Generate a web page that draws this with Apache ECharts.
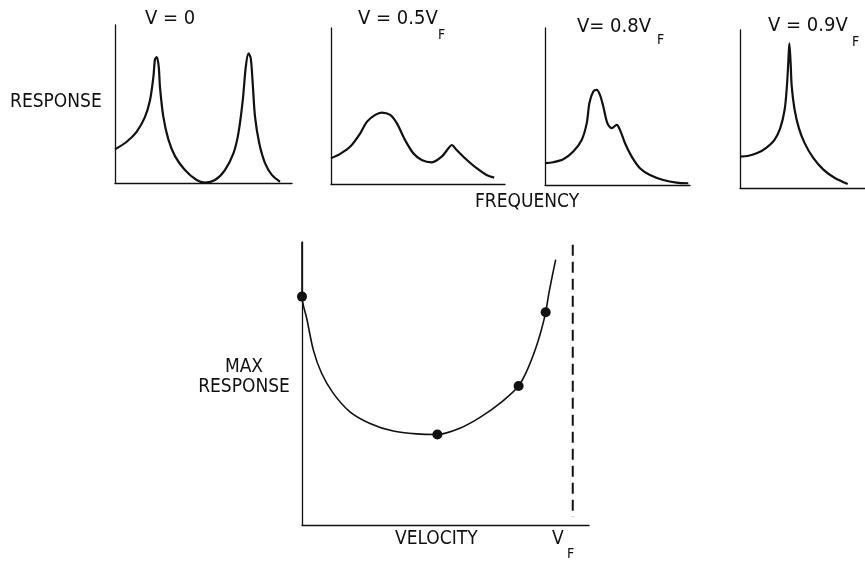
<!DOCTYPE html>
<html>
<head>
<meta charset="utf-8">
<style>
  html, body { margin: 0; padding: 0; background: #fff; }
  #chart { width: 865px; height: 561px; }
</style>
<script src="https://cdn.jsdelivr.net/npm/echarts@6/dist/echarts.min.js"></script>
</head>
<body>
<div id="chart"></div>
<script>
// Frequency response at four flow velocities (relative units)
const freqV0 = [0, 0.66, 1.22, 1.69, 1.98, 2.17, 2.26, 2.36, 2.47, 2.54, 2.73, 3.01, 3.39, 3.95, 4.61, 5.08, 5.65, 6.21, 6.69, 6.97, 7.22, 7.39, 7.54, 7.67, 7.78, 7.91, 8.15, 8.47, 8.85, 9.32];
const respV0 = [2.13, 2.61, 3.24, 4.17, 5.25, 6.73, 7.83, 7.97, 7.37, 6.09, 4.20, 2.78, 1.70, 0.82, 0.19, 0.03, 0.19, 0.82, 1.87, 3.14, 5.25, 7.36, 8.20, 7.89, 6.31, 4.20, 2.51, 1.27, 0.53, 0.08];

const freqV05 = [0, 0.53, 1.11, 1.68, 2.07, 2.54, 2.92, 3.40, 3.78, 4.25, 4.73, 5.21, 5.79, 6.36, 6.75, 6.94, 7.22, 7.70, 8.37, 8.94, 9.38];
const respV05 = [1.65, 1.93, 2.40, 3.25, 4.00, 4.43, 4.58, 4.43, 3.90, 2.83, 1.97, 1.54, 1.39, 1.75, 2.29, 2.50, 2.18, 1.65, 1.01, 0.58, 0.41];

const freqV08 = [0, 0.57, 1.26, 1.95, 2.53, 2.88, 3.06, 3.33, 3.57, 3.79, 4.02, 4.30, 4.60, 4.95, 5.17, 5.52, 5.98, 6.55, 7.24, 8.16, 9.08, 9.88];
const respV08 = [1.39, 1.45, 1.64, 2.13, 2.87, 3.94, 5.21, 5.95, 6.06, 5.74, 5.00, 3.94, 3.62, 3.83, 3.51, 2.66, 1.81, 1.07, 0.64, 0.32, 0.15, 0.11];

const freqV09 = [0, 0.69, 1.38, 2.07, 2.76, 3.22, 3.57, 3.75, 3.86, 3.95, 4.05, 4.14, 4.37, 4.71, 5.17, 5.86, 6.67, 7.59, 8.62];
const respV09 = [1.99, 2.04, 2.21, 2.53, 3.05, 3.79, 4.95, 6.42, 7.90, 9.16, 7.90, 6.42, 4.95, 3.79, 2.84, 1.90, 1.16, 0.63, 0.25];

const panelTitles = ['V = 0', 'V = 0.5V', 'V= 0.8V', 'V = 0.9V'];
const panelSubs = ['', 'F', 'F', 'F'];

// Peak response against velocity (fraction of flutter velocity V_F)
const velocity = [0, 0, 0, 0.018, 0.042, 0.072, 0.115, 0.177, 0.251, 0.337, 0.423, 0.5, 0.583, 0.662, 0.739, 0.8, 0.832, 0.861, 0.884, 0.9, 0.912, 0.925, 0.937];
const maxResp = [10, 9.1, 8.07, 7.28, 6.18, 5.37, 4.66, 4.00, 3.59, 3.32, 3.22, 3.20, 3.42, 3.83, 4.36, 4.91, 5.48, 6.18, 6.89, 7.52, 8.19, 8.83, 9.38];
const testVelocity = [0, 0.5, 0.8, 0.9];
const testMaxResp = [8.07, 3.20, 4.91, 7.52];
const flutterVelocity = 1.0;
const flutterLineSpan = [9.9, 0.28];

const zip = (xs, ys) => xs.map((x, i) => [x, ys[i]]);

const INK = '#111';
const FONT = '"DejaVu Sans Condensed", "DejaVu Sans", sans-serif';

const grids = [
  { left: 115, top: 25, width: 177, height: 158 },
  { left: 331, top: 28, width: 174, height: 156 },
  { left: 545, top: 28, width: 145, height: 157 },
  { left: 740, top: 30, width: 145, height: 158 },
  { left: 302, top: 242, width: 287, height: 283 }
];

const bareAxis = (idx, min, max) => ({
  gridIndex: idx, type: 'value', min: min, max: max,
  axisLine: { show: true, onZero: false, lineStyle: { color: INK, width: 1.3 } },
  axisTick: { show: false }, axisLabel: { show: false }, splitLine: { show: false }
});

const xAxes = [0, 1, 2, 3].map(i => bareAxis(i, 0, 10));
xAxes.push(bareAxis(4, 0, 1.06));
const yAxes = [0, 1, 2, 3, 4].map(i => bareAxis(i, 0, 10));

const curves = [zip(freqV0, respV0), zip(freqV05, respV05), zip(freqV08, respV08), zip(freqV09, respV09)];

const series = curves.map((d, i) => ({
  type: 'line', xAxisIndex: i, yAxisIndex: i, data: d,
  smooth: 0.3, showSymbol: false, clip: false,
  lineStyle: { color: INK, width: 2.2 }
}));

series.push({
  type: 'line', xAxisIndex: 4, yAxisIndex: 4, data: zip(velocity, maxResp),
  smooth: 0.3, showSymbol: false, clip: false,
  lineStyle: { color: INK, width: 1.6 }
});
series.push({
  type: 'scatter', xAxisIndex: 4, yAxisIndex: 4, data: zip(testVelocity, testMaxResp),
  symbolSize: 10, itemStyle: { color: INK, opacity: 1 }
});
series.push({
  type: 'line', xAxisIndex: 4, yAxisIndex: 4,
  data: flutterLineSpan.map(y => [flutterVelocity, y]),
  showSymbol: false,
  lineStyle: { color: INK, width: 2, type: [11, 6] }
});

const txt = (text, x, y, size, align) => ({
  type: 'text', x: x, y: y,
  style: { text: text, fill: INK, font: size + 'px ' + FONT, textAlign: align || 'left', textVerticalAlign: 'middle' }
});

const titlePos = [[145, 18.5], [358, 18.5], [577, 26.5], [768, 25.5]];
const subPos = [null, [438, 35], [657, 40], [852, 42.5]];

const graphics = [];
panelTitles.forEach((t, i) => {
  graphics.push(txt(t, titlePos[i][0], titlePos[i][1], 20));
  if (panelSubs[i]) graphics.push(txt(panelSubs[i], subPos[i][0], subPos[i][1], 14));
});
graphics.push(txt('RESPONSE', 10, 102, 19));
graphics.push(txt('FREQUENCY', 475, 202.5, 19));
graphics.push(txt('MAX', 244, 367.5, 19, 'center'));
graphics.push(txt('RESPONSE', 244, 387, 19, 'center'));
graphics.push(txt('VELOCITY', 395, 539.5, 19));
graphics.push(txt('V', 552, 539.5, 19));
graphics.push(txt('F', 567, 554.5, 14));

const chart = echarts.init(document.getElementById('chart'), null, { renderer: 'canvas' });
chart.setOption({
  animation: false,
  backgroundColor: '#fff',
  grid: grids,
  xAxis: xAxes,
  yAxis: yAxes,
  series: series,
  graphic: graphics
});
</script>
</body>
</html>
